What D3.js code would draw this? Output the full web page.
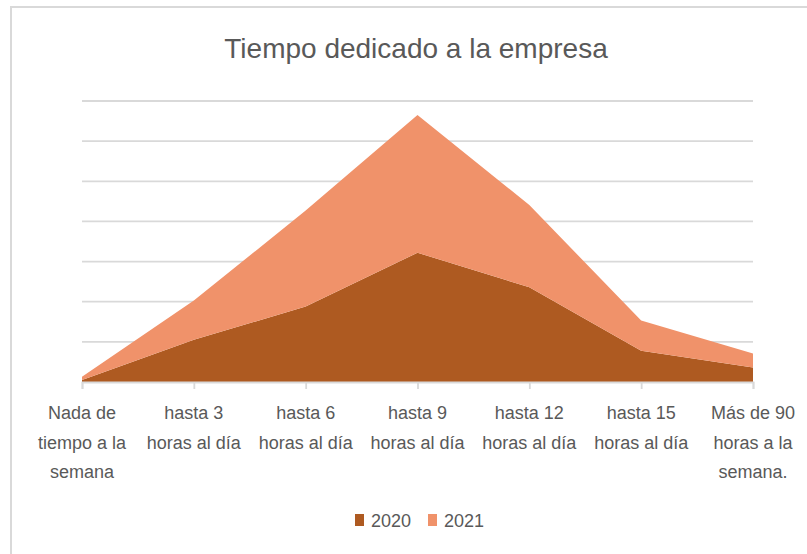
<!DOCTYPE html>
<html>
<head>
<meta charset="utf-8">
<script src="https://cdn.jsdelivr.net/npm/d3@7"></script>
<style>
  html, body { margin: 0; padding: 0; background: #fff; }
  svg { display: block; font-family: "Liberation Sans", Arial, sans-serif; }
</style>
</head>
<body>
<svg id="chart" width="807" height="554"></svg>
<script>
const categories = ['nada', 'h3', 'h6', 'h9', 'h12', 'h15', 'mas90'];
const categoryLines = [
  ['Nada de', 'tiempo a la', 'semana'],
  ['hasta 3', 'horas al día'],
  ['hasta 6', 'horas al día'],
  ['hasta 9', 'horas al día'],
  ['hasta 12', 'horas al día'],
  ['hasta 15', 'horas al día'],
  ['Más de 90', 'horas a la', 'semana.']
];
const values2020 = [0.05, 1.05, 1.88, 3.22, 2.36, 0.78, 0.36];
const values2021 = [0.08, 0.98, 2.39, 3.43, 2.05, 0.75, 0.35];
const seriesKeys = ['2020', '2021'];
const seriesColors = ['#ae5a21', '#f0926a'];
const gridTicks = [1, 2, 3, 4, 5, 6, 7];

const svg = d3.select('#chart');
const width = 807;
const height = 554;

// chart frame (cropped on right and bottom)
svg.append('path')
  .attr('d', `M11,${height} L11,7 L${width},7`)
  .attr('fill', 'none')
  .attr('stroke', '#d9d9d9')
  .attr('stroke-width', 2);

svg.append('text')
  .attr('x', 416)
  .attr('y', 58)
  .attr('text-anchor', 'middle')
  .attr('fill', '#595959')
  .attr('font-size', 28)
  .text('Tiempo dedicado a la empresa');

const xScale = d3.scalePoint().domain(categories).range([82, 753]).padding(0);
const yScale = d3.scaleLinear().domain([0, 7]).range([382, 101]);

const table = categories.map((c, i) => ({ cat: c, '2020': values2020[i], '2021': values2021[i] }));
const stacked = d3.stack().keys(seriesKeys)(table);

// gridlines
svg.append('g')
  .selectAll('line')
  .data(gridTicks)
  .join('line')
  .attr('x1', 82)
  .attr('x2', 753)
  .attr('y1', d => yScale(d))
  .attr('y2', d => yScale(d))
  .attr('stroke', '#d9d9d9')
  .attr('stroke-width', 1.8);

const area = d3.area()
  .x(d => xScale(d.data.cat))
  .y0(d => yScale(d[0]))
  .y1(d => yScale(d[1]));

svg.append('g')
  .selectAll('path')
  .data(stacked)
  .join('path')
  .attr('d', area)
  .attr('fill', (d, i) => seriesColors[i]);

// category axis
const xAxis = svg.append('g')
  .attr('transform', `translate(0,${yScale(0)})`)
  .call(d3.axisBottom(xScale).tickSize(7).tickFormat(''));
xAxis.selectAll('path, line').attr('stroke', '#d9d9d9').attr('stroke-width', 1.8);

const labels = svg.append('g')
  .selectAll('text')
  .data(categories)
  .join('text')
  .attr('x', d => xScale(d))
  .attr('y', 419)
  .attr('text-anchor', 'middle')
  .attr('fill', '#595959')
  .attr('font-size', 18);
labels.each(function (d, i) {
  d3.select(this).selectAll('tspan')
    .data(categoryLines[i])
    .join('tspan')
    .attr('x', xScale(d))
    .attr('dy', (t, j) => j === 0 ? 0 : 29.5)
    .text(t => t);
});

// legend
const legendItems = [
  { key: seriesKeys[0], color: seriesColors[0], x: 355 },
  { key: seriesKeys[1], color: seriesColors[1], x: 428 }
];
const legend = svg.append('g')
  .selectAll('g')
  .data(legendItems)
  .join('g')
  .attr('transform', d => `translate(${d.x},520)`);
legend.append('rect')
  .attr('x', 0)
  .attr('y', -6)
  .attr('width', 9)
  .attr('height', 12)
  .attr('fill', d => d.color);
legend.append('text')
  .attr('x', 16)
  .attr('y', 7)
  .attr('fill', '#595959')
  .attr('font-size', 18)
  .text(d => d.key);
</script>
</body>
</html>
